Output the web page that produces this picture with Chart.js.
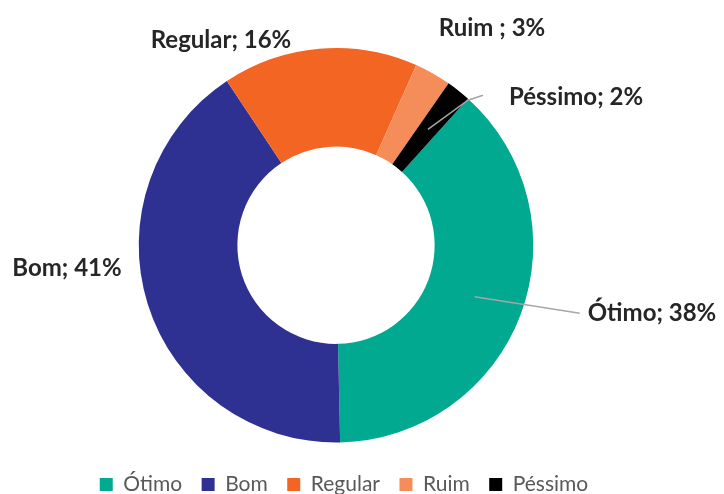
<!DOCTYPE html>
<html>
<head>
<meta charset="utf-8">
<script src="https://cdn.jsdelivr.net/npm/chart.js@4.4.1/dist/chart.umd.min.js"></script>
<style>
  html, body { margin: 0; padding: 0; background: #fff; }
  #wrap { width: 724px; height: 494px; }
</style>
</head>
<body>
<div id="wrap"><canvas id="grafico" width="724" height="494"></canvas></div>
<script>
// dados
const categorias = ['Ótimo', 'Bom', 'Regular', 'Ruim', 'Péssimo'];
const percentuais = [38, 41, 16, 3, 2];
const rotulos = ['Ótimo; 38%', 'Bom; 41%', 'Regular; 16%', 'Ruim ; 3%', 'Péssimo; 2%'];
const cores = ['#00A98F', '#2E3192', '#F26522', '#F58D5B', '#000000'];

// onde fica cada rotulo, relativo ao centro da rosca
const posRotulo = [
  { dx: 316, dy: 68, linha: true },
  { dx: -269, dy: 23 },
  { dx: -115, dy: -205 },
  { dx: 156, dy: -217 },
  { dx: 240, dy: -148, linha: true }
];

const pluginRotulos = { //escreve os rotulos e as linhas de chamada
  id: 'rotulos',
  afterLayout(chart) { //legenda um pouco mais para a direita, como no original
    if (chart.legend) {
      chart.legend.left += 8;
      chart.legend.right += 8;
    }
  },
  afterDatasetsDraw(chart) {
    const ctx = chart.ctx;
    const meta = chart.getDatasetMeta(0);
    ctx.save();
    ctx.font = 'bold 24px Lato';
    ctx.textBaseline = 'middle';
    ctx.textAlign = 'center';
    meta.data.forEach(function (arco, i) {
      const cx = arco.x, cy = arco.y;
      const p = posRotulo[i];
      const tx = cx + p.dx, ty = cy + p.dy;
      const w = ctx.measureText(rotulos[i]).width;
      if (p.linha) {
        const ini = arco.tooltipPosition();
        ctx.strokeStyle = '#a6a6a6';
        ctx.lineWidth = 1.5;
        ctx.beginPath();
        ctx.moveTo(ini.x, ini.y);
        if (i == 4) {
          ctx.lineTo(cx + 132, cy - 145);
          ctx.lineTo(cx + 147, cy - 150);
        } else {
          ctx.lineTo(tx - w / 2 - 8, ty);
        }
        ctx.stroke();
      }
      ctx.fillStyle = '#262626';
      ctx.fillText(rotulos[i], tx, ty);
    });
    ctx.restore();
  }
};

const grafico = new Chart(document.getElementById('grafico'), {
  type: 'doughnut',
  data: {
    labels: categorias,
    datasets: [{
      data: percentuais,
      backgroundColor: cores,
      borderWidth: 0
    }]
  },
  options: {
    responsive: false,
    animation: false,
    rotation: 42,
    cutout: '50%',
    layout: { padding: { top: 48, left: 0, right: 52, bottom: -11 } },
    plugins: {
      tooltip: { enabled: false },
      legend: {
        position: 'bottom',
        title: { display: true, text: '', padding: 0, font: { size: 12, lineHeight: 1 } },
        labels: {
          boxWidth: 13,
          boxHeight: 13,
          padding: 19.5,
          color: '#595959',
          font: { family: 'Lato', size: 21 }
        }
      }
    }
  },
  plugins: [pluginRotulos]
});
</script>
</body>
</html>
